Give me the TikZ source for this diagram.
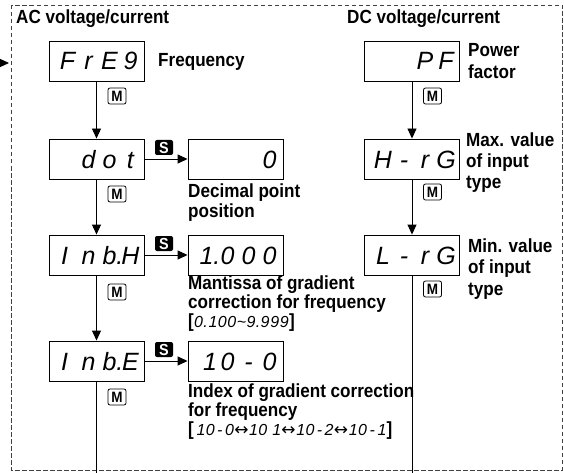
\documentclass[tikz,border=0pt]{standalone}
\usepackage{fontspec}
\setmainfont{Liberation Sans}[FakeStretch=0.9]
\newfontfamily\segf{Liberation Sans}
\newfontfamily\arrf{DejaVu Sans}
\usetikzlibrary{arrows.meta}
\newcommand\dcell[2][c]{\makebox[21pt][#1]{#2}}
\newcommand\icell[2][c]{\makebox[9.6pt][#1]{#2}}
\newcommand\dsp[1]{\makebox[89pt][r]{#1}}
\newcommand\sgi{\segf\itshape\mdseries\fontsize{16}{16}\selectfont}
\newcommand\arr{{\arrf\mdseries\fontsize{17}{17}\selectfont ↔}}
\begin{document}
\begin{tikzpicture}[x=1pt,y=-1pt,
 disp/.style={draw, line width=0.9pt, minimum width=95pt, minimum height=40pt, inner sep=0pt, text height=18pt, text depth=0pt, font=\segf\itshape\fontsize{25}{25}\selectfont},
 lab/.style={anchor=base west, inner sep=0pt, align=left, font=\bfseries\fontsize{19}{#1}\selectfont},
 lab/.default=20,
 mkey/.style={draw, rounded corners=2pt, line width=0.8pt, minimum width=18pt, minimum height=16pt, inner sep=0pt, font=\bfseries\fontsize{15}{15}\selectfont, fill=white},
 skey/.style={fill=black, text=white, rounded corners=2pt, minimum width=18pt, minimum height=15pt, inner sep=0pt, font=\bfseries\fontsize{16}{16}\selectfont},
 conn/.style={line width=0.9pt, -{Triangle[length=10pt,width=9pt]}},
 plainline/.style={line width=0.9pt},
 frame/.style={draw=black!75, line width=0.8pt, dash pattern=on 4.5pt off 2.5pt}
]
\useasboundingbox (0,0) rectangle (564,473);
\draw[frame] (11,5) rectangle (562,470);

% titles
\node[lab] (tac) at (16,24) {AC voltage/current};
\node[lab] (tdc) at (347,24) {DC voltage/current};

% displays, left column
\node[disp] (freq) at (96.5,61) {\dsp{\dcell{F}\dcell{r}\dcell{E}\dcell{9}}};
\node[disp] (dotb) at (96.5,159) {\dsp{\dcell{d}\dcell{o}\dcell{t}}};
\node[disp] (inbh) at (96.5,255) {\dsp{\dcell[l]{\,I}\dcell{n}\dcell{b\rlap{.}}\dcell{H}}};
\node[disp] (inbe) at (96.5,361) {\dsp{\dcell[l]{\,I}\dcell{n}\dcell{b\rlap{.}}\dcell{E}}};
% displays, middle column
\node[disp] (zero) at (235.5,159) {\dsp{\dcell{0}}};
\node[disp] (mant) at (235.5,255) {\dsp{\dcell{1\rlap{.}}\dcell{0}\dcell{0}\dcell{0}}};
\node[disp] (idx) at (235.5,361) {\dsp{\dcell[r]{1}\dcell{0}\dcell{-}\dcell{0}}};
% displays, right column
\node[disp] (pf) at (412,61) {\dsp{\dcell{P}\dcell{F}}};
\node[disp] (hrg) at (412,159) {\dsp{\dcell{H}\dcell{-}\dcell{r}\dcell{G}}};
\node[disp] (lrg) at (412,255) {\dsp{\dcell{L}\dcell{-}\dcell{r}\dcell{G}}};

% free ends
\coordinate (inS) at (-20,63);
\coordinate (inE) at (9,63);
\coordinate (endL) at (96.5,480);
\coordinate (endR) at (412,480);

% connectors
\draw[conn] (inS) -- (inE);
\draw[conn] (freq) -- (dotb);
\draw[conn] (dotb) -- (inbh);
\draw[conn] (inbh) -- (inbe);
\draw[plainline] (inbe.south) -- (endL);
\draw[conn] (dotb) -- (zero);
\draw[conn] (inbh) -- (mant);
\draw[conn] (inbe) -- (idx);
\draw[conn] (pf) -- (hrg);
\draw[conn] (hrg) -- (lrg);
\draw[plainline] (lrg.south) -- (endR);

% key labels
\node[mkey] (m1) at (117,96) {M};
\node[mkey] (m2) at (117,194) {M};
\node[mkey] (m3) at (117,292) {M};
\node[mkey] (m4) at (117,397) {M};
\node[mkey] (m5) at (432.5,96) {M};
\node[mkey] (m6) at (432.5,192) {M};
\node[mkey] (m7) at (432.5,289) {M};
\node[skey] (s1) at (164,147.5) {S};
\node[skey] (s2) at (164,243.5) {S};
\node[skey] (s3) at (164,349.5) {S};

% descriptions (anchor = baseline of last line)
\node[lab] (lfreq) at (158,67) {Frequency};
\node[lab=22] (lpf) at (468,79) {Power\\factor};
\node[lab=21] (lmax) at (466,188) {Max. value\\of input\\type};
\node[lab=21.5] (lmin) at (468,295) {Min. value\\of input\\type};
\node[lab=20] (ldec) at (188,217) {Decimal point\\position};
\node[lab=17.5] (lman) at (188,327) {Mantissa of gradient\\correction for frequency\\{[}{\sgi\icell{0}.\icell[r]{1}\icell{0}\icell{0}\icell{\textasciitilde}\icell{9}.\icell{9}\icell{9}\icell{9}}]};
\node[lab=16.5] (lidx) at (188,435) {Index of gradient correction\\for frequency\\{[}\kern2pt{\sgi\icell[r]{1}\icell{0}\icell{-}\icell{0}}\arr{\sgi\icell[r]{1}\icell{0}\kern4pt\icell[r]{1}}\arr{\sgi\icell[r]{1}\icell{0}\icell{-}\icell{2}}\arr{\sgi\icell[r]{1}\icell{0}\icell{-}\icell[r]{1}}]};
\end{tikzpicture}
\end{document}
